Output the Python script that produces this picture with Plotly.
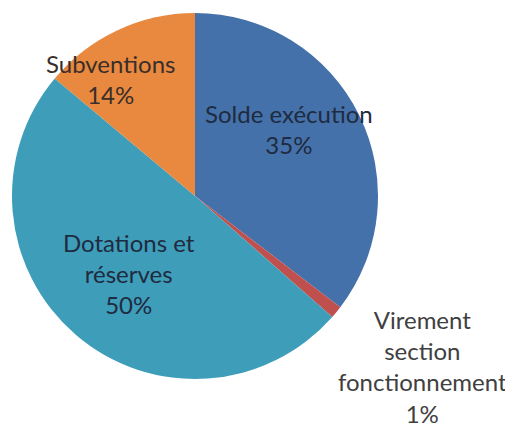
import plotly.graph_objects as go

labels = ["Solde exécution", "Virement section fonctionnement", "Dotations et réserves", "Subventions"]
values = [35.4, 1.1, 49.6, 13.9]
colors = ["#4571AA", "#C0504D", "#3E9DB9", "#E8893F"]

label_texts = [
    "Solde exécution<br>35%",
    "Virement<br>section<br>fonctionnement<br>1%",
    "Dotations et<br>réserves<br>50%",
    "Subventions<br>14%",
]
label_pos = [(289, 129), (422, 366), (129, 273), (110, 79)]
label_colors = ["#1E2B40", "#404040", "#1E2B40", "#3A2E2A"]

W, H = 513, 428
OFF = 8  # page body margin offset
cx, cy, r = 195 - OFF, 196 - OFF, 183

fig = go.Figure(go.Pie(
    labels=labels, values=values, sort=False, direction="clockwise", rotation=0,
    marker=dict(colors=colors, line=dict(width=0)),
    textinfo="none", hoverinfo="label+percent",
    domain=dict(x=[(cx - r) / W, (cx + r) / W], y=[1 - (cy + r) / H, 1 - (cy - r) / H]),
    showlegend=False,
))

for t, (x, y), c in zip(label_texts, label_pos, label_colors):
    fig.add_annotation(x=(x - OFF) / W, y=1 - (y - OFF) / H, xref="paper", yref="paper", text=t,
                       showarrow=False, xanchor="center", yanchor="middle",
                       font=dict(family="Lato", size=24, color=c), align="center")

fig.update_layout(width=W, height=H, margin=dict(l=0, r=0, t=0, b=0),
                  paper_bgcolor="white", plot_bgcolor="white")
fig.write_html("out.html")
